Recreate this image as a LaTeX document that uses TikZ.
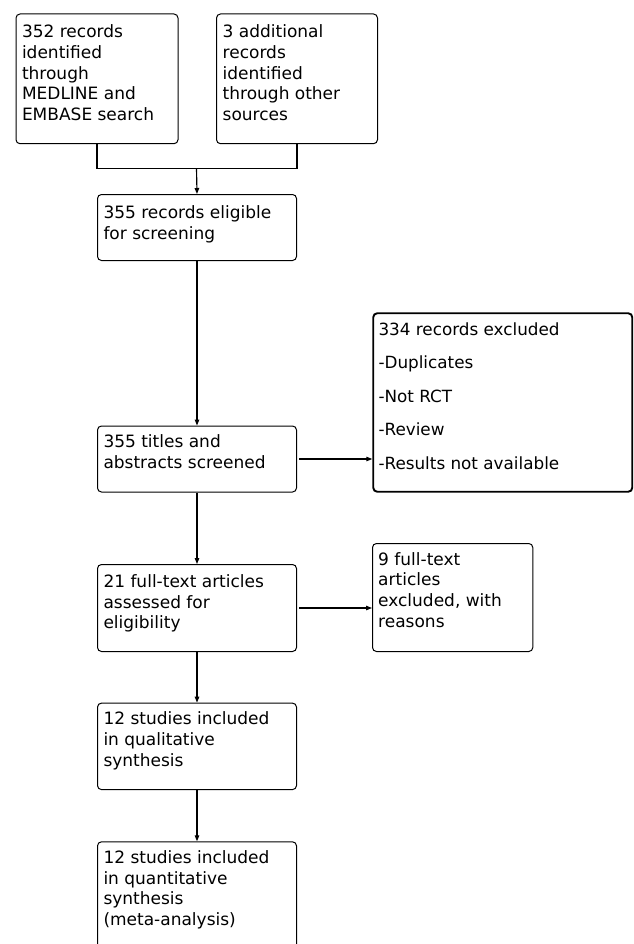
\documentclass[tikz,border=0pt]{standalone}
\usepackage{fontspec}
\setmainfont{DejaVu Sans}
\usetikzlibrary{arrows.meta,calc}
\newcommand{\boxlines}[1]{\begin{tabular}[t]{@{}l@{}}#1\end{tabular}}
\begin{document}
\begin{tikzpicture}[x=1pt,y=-1pt,
  box/.style={draw, rounded corners=4pt, line width=1pt, inner sep=0pt, anchor=north west},
  thickbox/.style={box, line width=1.9pt},
  txt/.style={anchor=base west, inner sep=0pt, font=\fontsize{17}{20.8}\selectfont},
  listtxt/.style={txt, font=\fontsize{16.8}{33.5}\selectfont},
  conn/.style={line width=1.15pt},
  arr/.style={conn, -{Triangle[length=6pt,width=4.5pt]}}]
\useasboundingbox (0,0) rectangle (633,944);
\clip (0,0) rectangle (633,944);
% boxes
\node[box, minimum width=162pt, minimum height=129.7pt] (A) at (15.5,13.5) {};
\node[box, minimum width=161pt, minimum height=129.7pt] (B) at (216,13.5) {};
\node[box, minimum width=199pt, minimum height=66pt] (C) at (97,194) {};
\node[box, minimum width=199pt, minimum height=66pt] (D) at (97,425.5) {};
\node[thickbox, minimum width=259pt, minimum height=178.5pt] (E) at (372.3,312.3) {};
\node[box, minimum width=160.3pt, minimum height=108pt] (F) at (372,543) {};
\node[box, minimum width=199pt, minimum height=87pt] (G) at (97,564) {};
\node[box, minimum width=199pt, minimum height=86.5pt] (H) at (97,702.6) {};
\node[box, minimum width=199pt, minimum height=115pt] (I) at (97,841.3) {};
% texts
\node[txt] (At) at ($(A.north west)+(6.3,24)$) {\boxlines{352 records\\identified\\through\\MEDLINE and\\EMBASE search}};
\node[txt] (Bt) at ($(B.north west)+(6.5,24)$) {\boxlines{3 additional\\records\\identified\\through other\\sources}};
\node[txt] (Ct) at ($(C.north west)+(6.3,24.3)$) {\boxlines{355 records eligible\\for screening}};
\node[txt] (Dt) at ($(D.north west)+(6.3,22.4)$) {\boxlines{355 titles and\\abstracts screened}};
\node[listtxt] (Et) at ($(E.north west)+(6,23)$) {\boxlines{334 records excluded\\-Duplicates\\-Not RCT\\-Review\\-Results not available}};
\node[txt] (Ft) at ($(F.north west)+(6,22)$) {\boxlines{9 full-text\\articles\\excluded, with\\reasons}};
\node[txt] (Gt) at ($(G.north west)+(6.3,23.3)$) {\boxlines{21 full-text articles\\assessed for\\eligibility}};
\node[txt] (Ht) at ($(H.north west)+(6.3,22)$) {\boxlines{12 studies included\\in qualitative\\synthesis}};
\node[txt] (It) at ($(I.north west)+(6.3,22)$) {\boxlines{12 studies included\\in quantitative\\synthesis\\(meta-analysis)}};
% connectors
\coordinate (J) at (196.5,168.5);
\draw[conn] (A.south) |- (J) -| (B.south);
\draw[arr] (J) -- (C.north);
\draw[arr] (C.south) -- (D.north);
\draw[arr, shorten <=2pt] (D.east) -- (D.east -| E.west);
\draw[arr] (D.south) -- (G.north);
\draw[arr, shorten <=2pt] (G.east) -- (G.east -| F.west);
\draw[arr] (G.south) -- (H.north);
\draw[arr] (H.south) -- (I.north);
\end{tikzpicture}
\end{document}
